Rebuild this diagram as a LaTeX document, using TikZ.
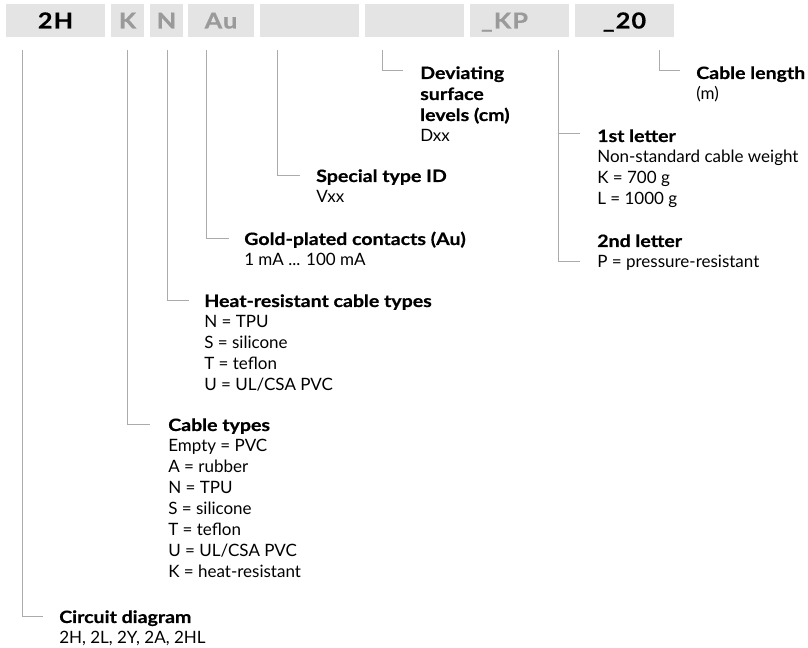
\documentclass[tikz,border=0pt]{standalone}
\usepackage{fontspec}
\setmainfont{Lato}[BoldFeatures={FakeStretch=1.15,FakeBold=0.6}]
\definecolor{boxfill}{HTML}{E4E4E4}
\definecolor{codegray}{HTML}{9A9A9A}
\definecolor{linegray}{HTML}{ABABAB}
\newcommand\li[1]{\hbox{#1}}
\newcommand\blk[2]{\vtop{\baselineskip=15.75pt\lineskiplimit=-20pt\hbox{\bfseries #1}#2}}
\tikzset{
  hdr/.style={fill=boxfill, minimum height=24.75pt, inner sep=0pt, text height=12pt, text depth=0pt,
    font=\fontsize{16.5pt}{18pt}\selectfont\bfseries\addfontfeature{LetterSpace=5}, text=codegray},
  hdrtext/.style={inner sep=0pt, text height=12pt, text depth=0pt,
    font=\fontsize{16.5pt}{18pt}\selectfont\bfseries\addfontfeature{LetterSpace=5}, text=codegray},
  txt/.style={anchor=base west, inner sep=0pt, font=\fontsize{12.75pt}{15.75pt}\selectfont},
  conn/.style={draw=linegray, line width=0.75pt}
}
\begin{document}
\begin{tikzpicture}[x=0.75pt, y=-0.75pt]
\useasboundingbox (0,0) rectangle (808,648);
% header boxes
\node[hdr, minimum width=74.25pt] (h1) at (55.5,20.5) {\textcolor{black}{2H}};
\node[hdr, minimum width=24.75pt] (h2) at (127.5,20.5) {K};
\node[hdr, minimum width=24.75pt] (h3) at (166.5,20.5) {N};
\node[hdr, minimum width=49.5pt] (h4) at (221,20.5) {Au};
\node[hdr, minimum width=74.25pt] (h5) at (309.5,20.5) {};
\node[hdr, minimum width=74.25pt] (h6) at (414.5,20.5) {};
\node[hdr, minimum width=74.25pt] (h7) at (519.5,20.5) {};
\node[hdrtext] (h7t) at (504.5,20.5) {\_KP};
\node[hdr, minimum width=74.25pt] (h8) at (624.5,20.5) {\textcolor{black}{\_20}};
% connector tops and ends
\coordinate (t1) at (22,50);  \coordinate (e1) at (43,617);
\coordinate (t2) at (127,50); \coordinate (e2) at (150,425);
\coordinate (t3) at (167,50); \coordinate (e3) at (189,301);
\coordinate (t4) at (206,50); \coordinate (e4) at (229,239);
\coordinate (t5) at (277,50); \coordinate (e5) at (300,176);
\coordinate (t6) at (382,50); \coordinate (e6) at (403,71);
\coordinate (t7) at (558,50); \coordinate (e7a) at (580,134); \coordinate (e7b) at (580,262);
\coordinate (t8) at (659,50); \coordinate (e8) at (680,71);
% texts
\node[txt] (circ) at (59,623) {\blk{Circuit diagram}{\li{2H, 2L, 2Y, 2A, 2HL}}};
\node[txt] (cab) at (168,431) {\blk{Cable types}{\li{Empty = PVC}\li{A = rubber}\li{N = TPU}\li{S = silicone}\li{T = teflon}\li{U = UL/CSA PVC}\li{K = heat-resistant}}};
\node[txt] (heat) at (204,307) {\blk{Heat-resistant cable types}{\li{N = TPU}\li{S = silicone}\li{T = teflon}\li{U = UL/CSA PVC}}};
\node[txt] (gold) at (244,245) {\blk{Gold-plated contacts (Au)}{\li{1 mA ... 100 mA}}};
\node[txt] (spec) at (316,182) {\blk{Special type ID}{\li{Vxx}}};
\node[txt] (dev) at (420,79) {\blk{Deviating}{\li{\bfseries surface}\li{\bfseries levels (cm)}\li{Dxx}}};
\node[txt] (kp) at (597,142) {\blk{1st letter}{\li{Non-standard cable weight}\li{K = 700 g}\li{L = 1000 g}\li{}\li{\bfseries 2nd letter}\li{P = pressure-resistant}}};
\node[txt] (len) at (696,79) {\blk{Cable length}{\li{(m)}}};
% connectors
\draw[conn] (t1) |- (e1);
\draw[conn] (t2) |- (e2);
\draw[conn] (t3) |- (e3);
\draw[conn] (t4) |- (e4);
\draw[conn] (t5) |- (e5);
\draw[conn] (t6) |- (e6);
\draw[conn] (t7) |- (e7b);
\draw[conn] (t7 |- e7a) -- (e7a);
\draw[conn] (t8) |- (e8);
\end{tikzpicture}
\end{document}
